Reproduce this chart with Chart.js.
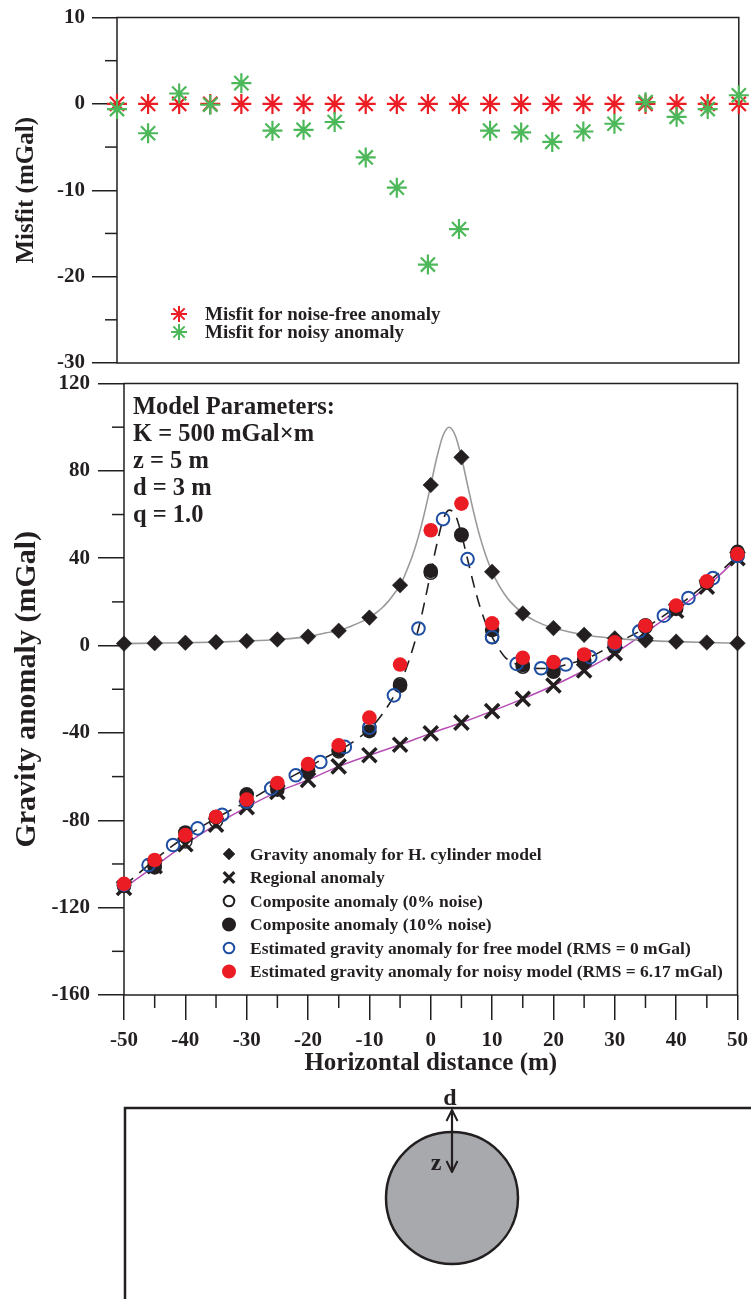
<!DOCTYPE html>
<html>
<head>
<meta charset="utf-8">
<title>Horizontal cylinder gravity anomaly inversion</title>
<script src="https://cdn.jsdelivr.net/npm/chart.js@4.4.1/dist/chart.umd.min.js"></script>
<style>
  html, body { margin: 0; padding: 0; background: #fff; }
  body { width: 751px; height: 1299px; position: relative; overflow: hidden; }
  #misfitBox { position: absolute; left: 0; top: 0; width: 751px; height: 380px; }
  #gravityBox { position: absolute; left: 0; top: 370px; width: 751px; height: 712px; }
  #modelSketch { position: absolute; left: 0; top: 1080px; }
  canvas { display: block; }
</style>
</head>
<body>
<div id="misfitBox"><canvas id="misfit" width="751" height="380"></canvas></div>
<div id="gravityBox"><canvas id="gravity" width="751" height="712"></canvas></div>

<svg id="modelSketch" width="751" height="219" viewBox="0 1080 751 219" xmlns="http://www.w3.org/2000/svg">
  <defs>
    <marker id="arrowHead" viewBox="0 0 14 14" refX="13" refY="7" markerWidth="14" markerHeight="14" markerUnits="userSpaceOnUse" orient="auto-start-reverse">
      <path d="M2,1.5 L13,7 L2,12.5" fill="none" stroke="#231f20" stroke-width="2"/>
    </marker>
  </defs>
  <polyline points="125,1299 125,1108 751,1108" fill="none" stroke="#231f20" stroke-width="2.5"/>
  <circle cx="452" cy="1198" r="66" fill="#a7a9ac" stroke="#231f20" stroke-width="2.5"/>
  <line x1="452" y1="1110" x2="452" y2="1172" stroke="#231f20" stroke-width="2.2"
        marker-start="url(#arrowHead)" marker-end="url(#arrowHead)"/>
  <text x="450" y="1105" text-anchor="middle" font-family="Liberation Serif, serif" font-weight="bold" font-size="24" fill="#231f20">d</text>
  <text x="436" y="1170" text-anchor="middle" font-family="Liberation Serif, serif" font-weight="bold" font-size="24" fill="#231f20">z</text>
</svg>

<script>
// ---- Survey stations (m) ----
const stations = [-50, -45, -40, -35, -30, -25, -20, -15, -10, -5, 0, 5, 10, 15, 20, 25, 30, 35, 40, 45, 50];

// ---- Misfit panel (mGal) ----
const misfitNoiseFree = [0, 0, 0, 0, 0, 0, 0, 0, 0, 0, 0, 0, 0, 0, 0, 0, 0, 0, 0, 0, 0];
const misfitNoisy = [-0.6, -3.4, 1.2, -0.1, 2.4, -3.1, -3.0, -2.1, -6.2, -9.7, -18.6, -14.5, -3.1, -3.3, -4.4, -3.2, -2.3, 0.2, -1.5, -0.6, 1.0];

// ---- Gravity panel (mGal) ----
const cylinderAnomaly = [0.9, 1.1, 1.3, 1.6, 2.1, 2.8, 4.1, 6.8, 12.8, 27.6, 73.5, 86.2, 33.8, 14.7, 8.0, 4.9, 3.3, 2.4, 1.8, 1.4, 1.1];
const regionalAnomaly = [-111, -101, -91, -82, -74, -67, -61.5, -55.3, -50.2, -45.4, -40.2, -35.3, -30, -24.4, -18.3, -11.4, -3.5, 6, 16, 27, 40];
const compositeClean = [-110.1, -99.9, -89.7, -80.4, -72.0, -64.2, -57.5, -48.5, -37.3, -17.7, 33.3, 50.9, 3.8, -9.7, -10.3, -6.5, 0.3, 8.4, 17.8, 28.8, 41.1];
const compositeNoisy = [-109.7, -101.6, -85.6, -78.5, -68.1, -66.0, -57.3, -47.8, -39.2, -18.4, 34.2, 50.5, 7.1, -8.9, -12.0, -7.3, -0.8, 9.3, 16.8, 28.8, 42.9];
const estimatedNoisy = [-109.1, -98.2, -86.8, -78.4, -70.5, -62.9, -54.3, -45.7, -33.0, -8.7, 52.8, 65.0, 10.2, -5.6, -7.6, -4.1, 1.5, 9.1, 18.3, 29.4, 41.9];

// estimated anomaly of the noise-free model, sampled every 4 m
const freeStations = [-50, -46, -42, -38, -34, -30, -26, -22, -18, -14, -10, -6, -2, 2, 6, 10, 14, 18, 22, 26, 30, 34, 38, 42, 46, 50];
const estimatedFree = [-109.5, -100.5, -91.3, -83.7, -77.5, -71.5, -65.4, -59.4, -53.3, -46.4, -37.6, -22.8, 7.8, 57.9, 39.6, 3.9, -8.4, -10.4, -8.7, -5.3, 0.9, 6.5, 13.7, 21.8, 30.9, 41.0];

// continuous cylinder response (grey curve)
const cylinderCurveX = [-50, -45, -40, -35, -30, -25, -20, -17, -15, -13, -11, -10, -9, -8, -7, -6, -5, -4, -3, -2, -1, 0, 1, 2, 3, 4, 5, 6, 7, 8, 9, 10, 11, 12, 13, 15, 17, 20, 23, 26, 30, 35, 40, 45, 50];
const cylinderCurve = [0.9, 1.1, 1.3, 1.6, 2.1, 2.8, 4.1, 5.9, 6.8, 8.9, 11.3, 12.9, 14.8, 17.1, 20.0, 23.6, 27.5, 33.8, 41.0, 50.0, 61.0, 73.5, 86.2, 96.2, 100.0, 96.2, 86.2, 73.5, 61.0, 50.0, 41.0, 33.8, 28.1, 23.6, 20.0, 14.8, 11.3, 8.0, 6.0, 4.5, 3.3, 2.4, 1.8, 1.4, 1.1];

// continuous fitted composite response (dashed curve)
const fitCurveX = [-50, -46, -42, -38, -34, -30, -26, -22, -18, -14, -10, -8, -6, -4, -2, -1, 0, 1, 2, 3, 4, 5, 6, 7, 8, 9, 10, 12, 14, 16, 18, 20, 22, 26, 30, 34, 38, 42, 46, 50];
const fitCurve = [-110, -100.5, -91.5, -84, -77.5, -71.5, -65, -59, -52.5, -46.5, -38.3, -31.8, -23, -10.5, 7.8, 20, 33.5, 46.5, 57.5, 62, 59.8, 51, 39.5, 28, 18, 10, 4, -5, -8.6, -10.2, -10.5, -10.2, -8.8, -5.2, 0.8, 6.5, 13.7, 21.8, 30.9, 41];

// ---- Text ----
const modelParams = ['Model Parameters:', 'K = 500 mGal\u00d7m', 'z = 5 m', 'd = 3 m', 'q = 1.0'];
const misfitTicks = { min: -30, max: 10, step: 10, minor: 5 };
const gravityTicks = { min: -160, max: 120, step: 40, minor: 20 };
const distanceTicks = { min: -50, max: 50, step: 10, minor: 5 };

// ---- Styling ----
const SERIF = '"Liberation Serif", "Times New Roman", serif';
const INK = '#231f20';
const RED = '#ec1c24';
const GREEN = '#4cb85a';
const BLUE = '#1f4fa3';
const MAGENTA = '#b54db5';
const GREY = '#9a9a9a';

const pairs = (xs, ys) => xs.map((x, i) => ({ x: x, y: ys[i] }));

function markerAt(ctx, ds, x, y, radius) {
  ctx.save();
  ctx.fillStyle = ds.pointBackgroundColor || ds.backgroundColor || 'transparent';
  ctx.strokeStyle = ds.pointBorderColor || ds.borderColor || INK;
  ctx.lineWidth = ds.legendBorderWidth != null ? ds.legendBorderWidth : (ds.pointBorderWidth || 1);
  const opts = { pointStyle: ds.pointStyle || 'circle', rotation: 0, radius: radius, borderWidth: ctx.lineWidth };
  if (Chart.helpers && Chart.helpers.drawPoint) {
    Chart.helpers.drawPoint(ctx, opts, x, y);
  } else {
    ctx.beginPath(); ctx.arc(x, y, radius, 0, Math.PI * 2); ctx.fill(); ctx.stroke();
  }
  ctx.restore();
}

// keep the plot box exactly where the layout padding puts it
function noAutoPadding(scale) {
  scale.paddingTop = 0; scale.paddingBottom = 0;
  scale.paddingLeft = 0; scale.paddingRight = 0;
}

// box frame and short minor ticks
const framePlugin = {
  id: 'frame',
  beforeDatasetsDraw(chart, args, opts) {
    const { ctx, chartArea: { left, right, top, bottom } } = chart;
    ctx.save();
    ctx.strokeStyle = INK;
    ctx.lineWidth = 1.5;
    ctx.strokeRect(left, top, right - left, bottom - top);
    (opts.minor || []).forEach(m => {
      const sc = chart.scales[m.axis];
      for (let v = m.min; v <= m.max + 1e-9; v += m.minor) {
        if (Math.abs(v % m.step) < 1e-9) continue;
        const p = sc.getPixelForValue(v);
        ctx.beginPath();
        if (sc.isHorizontal()) { ctx.moveTo(p, bottom); ctx.lineTo(p, bottom + m.len); }
        else { ctx.moveTo(left, p); ctx.lineTo(left - m.len, p); }
        ctx.stroke();
      }
    });
    ctx.restore();
  }
};

// in-plot legend block and annotation text
const notesPlugin = {
  id: 'notes',
  afterDraw(chart, args, opts) {
    const { ctx, chartArea } = chart;
    ctx.save();
    if (opts.legend) {
      const L = opts.legend;
      L.items.forEach((it, k) => {
        const ds = chart.data.datasets[it.dataset];
        const y = chartArea.top + L.y + k * L.dy;
        markerAt(ctx, ds, chartArea.left + L.markerX, y, it.radius);
        ctx.fillStyle = INK;
        ctx.font = 'bold ' + L.size + 'px ' + SERIF;
        ctx.textAlign = 'left';
        ctx.textBaseline = 'middle';
        ctx.fillText(ds.label, chartArea.left + L.textX, y + 1);
      });
    }
    if (opts.text) {
      const T = opts.text;
      ctx.fillStyle = INK;
      ctx.font = 'bold ' + T.size + 'px ' + SERIF;
      ctx.textAlign = 'left';
      ctx.textBaseline = 'alphabetic';
      T.lines.forEach((line, k) => {
        ctx.fillText(line, chartArea.left + T.x, chartArea.top + T.y + k * T.dy);
      });
    }
    ctx.restore();
  }
};

const tickFont = { family: SERIF, size: 21, weight: 'bold' };
const titleFont = { family: SERIF, size: 25, weight: 'bold' };

// ================= Misfit panel =================
new Chart(document.getElementById('misfit'), {
  type: 'scatter',
  data: {
    datasets: [
      {
        label: 'Misfit for noisy anomaly',
        data: pairs(stations, misfitNoisy),
        pointStyle: 'star', pointRadius: 10, pointBorderWidth: 2.2,
        borderColor: GREEN, backgroundColor: GREEN, legendBorderWidth: 2,
        clip: false, order: 0
      },
      {
        label: 'Misfit for noise-free anomaly',
        data: pairs(stations, misfitNoiseFree),
        pointStyle: 'star', pointRadius: 10, pointBorderWidth: 2.2,
        borderColor: RED, backgroundColor: RED, legendBorderWidth: 2,
        clip: false, order: 1
      }
    ]
  },
  options: {
    responsive: false,
    animation: false,
    devicePixelRatio: 1,
    layout: { padding: { top: 17.5, right: 12, bottom: 17, left: 0 } },
    plugins: {
      legend: { display: false },
      tooltip: { enabled: false },
      frame: { minor: [{ axis: 'y', min: misfitTicks.min, max: misfitTicks.max, step: misfitTicks.step, minor: misfitTicks.minor, len: 12 }] },
      notes: {
        legend: {
          markerX: 62, textX: 88, y: 296.5, dy: 18, size: 19,
          items: [{ dataset: 1, radius: 8 }, { dataset: 0, radius: 8 }]
        }
      }
    },
    scales: {
      x: { type: 'linear', min: distanceTicks.min, max: distanceTicks.max, display: false },
      y: {
        type: 'linear', min: misfitTicks.min, max: misfitTicks.max,
        afterFit(scale) { scale.width = 117; noAutoPadding(scale); },
        ticks: { stepSize: misfitTicks.step, font: tickFont, color: INK, padding: 7 },
        grid: { drawOnChartArea: false, tickLength: 25, color: INK, lineWidth: 1.5 },
        border: { display: false },
        title: { display: true, text: 'Misfit (mGal)', font: titleFont, color: INK, padding: { top: 12, bottom: 0 } }
      }
    }
  },
  plugins: [framePlugin, notesPlugin]
});

// ================= Gravity panel =================
new Chart(document.getElementById('gravity'), {
  type: 'scatter',
  data: {
    datasets: [
      {
        label: 'Estimated gravity anomaly for noisy model (RMS = 6.17 mGal)',
        data: pairs(stations, estimatedNoisy),
        pointStyle: 'circle', pointRadius: 7.3, pointBorderWidth: 0,
        backgroundColor: RED, borderColor: RED, legendBorderWidth: 0,
        clip: false, order: 0
      },
      {
        label: 'Estimated gravity anomaly for free model (RMS = 0 mGal)',
        data: pairs(freeStations, estimatedFree),
        pointStyle: 'circle', pointRadius: 6.3, pointBorderWidth: 2,
        backgroundColor: 'rgba(255,255,255,0)', borderColor: BLUE, legendBorderWidth: 2,
        clip: false, order: 1
      },
      {
        label: 'Composite anomaly (10% noise)',
        data: pairs(stations, compositeNoisy),
        pointStyle: 'circle', pointRadius: 7.3, pointBorderWidth: 0,
        backgroundColor: INK, borderColor: INK, legendBorderWidth: 0,
        clip: false, order: 2
      },
      {
        label: 'Composite anomaly (0% noise)',
        data: pairs(stations, compositeClean),
        pointStyle: 'circle', pointRadius: 6.5, pointBorderWidth: 1.5,
        backgroundColor: 'rgba(255,255,255,0)', borderColor: INK, legendBorderWidth: 2,
        clip: false, order: 3
      },
      {
        label: 'Regional anomaly',
        data: pairs(stations, regionalAnomaly),
        pointStyle: 'crossRot', pointRadius: 10, pointBorderWidth: 3.5,
        backgroundColor: INK, borderColor: INK, legendBorderWidth: 3.2,
        clip: false, order: 4
      },
      {
        label: 'Gravity anomaly for H. cylinder model',
        data: pairs(stations, cylinderAnomaly),
        pointStyle: 'rectRot', pointRadius: 7.8, pointBorderWidth: 0.5,
        backgroundColor: INK, borderColor: INK, legendBorderWidth: 0.5,
        clip: false, order: 5
      },
      {
        label: 'fitted composite curve',
        data: pairs(fitCurveX, fitCurve),
        showLine: true, pointRadius: 0, borderColor: INK, borderWidth: 1.6,
        borderDash: [12, 8], cubicInterpolationMode: 'monotone', order: 6
      },
      {
        label: 'cylinder response curve',
        data: pairs(cylinderCurveX, cylinderCurve),
        showLine: true, pointRadius: 0, borderColor: GREY, borderWidth: 1.6,
        cubicInterpolationMode: 'monotone', order: 7
      },
      {
        label: 'regional trend',
        data: pairs(stations, regionalAnomaly),
        showLine: true, pointRadius: 0, borderColor: MAGENTA, borderWidth: 1.5,
        cubicInterpolationMode: 'monotone', order: 8
      }
    ]
  },
  options: {
    responsive: false,
    animation: false,
    devicePixelRatio: 1,
    layout: { padding: { top: 12.5, right: 12, bottom: 0, left: 0 } },
    plugins: {
      legend: { display: false },
      tooltip: { enabled: false },
      frame: {
        minor: [
          { axis: 'y', min: gravityTicks.min, max: gravityTicks.max, step: gravityTicks.step, minor: gravityTicks.minor, len: 12 },
          { axis: 'x', min: distanceTicks.min, max: distanceTicks.max, step: distanceTicks.step, minor: distanceTicks.minor, len: 13 }
        ]
      },
      notes: {
        text: { lines: modelParams, x: 9, y: 30.5, dy: 27, size: 24.5 },
        legend: {
          markerX: 105, textX: 126, y: 470.5, dy: 23.5, size: 17.5,
          items: [
            { dataset: 5, radius: 6 },
            { dataset: 4, radius: 7.5 },
            { dataset: 3, radius: 5.3 },
            { dataset: 2, radius: 6 },
            { dataset: 1, radius: 5.3 },
            { dataset: 0, radius: 6 }
          ]
        }
      }
    },
    scales: {
      x: {
        type: 'linear', min: distanceTicks.min, max: distanceTicks.max,
        afterFit(scale) { scale.height = 87; noAutoPadding(scale); },
        ticks: { stepSize: distanceTicks.step, font: tickFont, color: INK, padding: 8, maxRotation: 0 },
        grid: { drawOnChartArea: false, tickLength: 25, color: INK, lineWidth: 1.5 },
        border: { display: false },
        title: { display: true, text: 'Horizontal distance (m)', font: titleFont, color: INK, padding: { top: 0, bottom: 3 } }
      },
      y: {
        type: 'linear', min: gravityTicks.min, max: gravityTicks.max,
        afterFit(scale) { scale.width = 124; noAutoPadding(scale); },
        ticks: { stepSize: gravityTicks.step, font: tickFont, color: INK, padding: 8 },
        grid: { drawOnChartArea: false, tickLength: 26, color: INK, lineWidth: 1.5 },
        border: { display: false },
        title: { display: true, text: 'Gravity anomaly (mGal)', font: { family: SERIF, size: 30, weight: 'bold' }, color: INK, padding: { top: 9, bottom: 0 } }
      }
    }
  },
  plugins: [framePlugin, notesPlugin]
});
</script>
</body>
</html>
